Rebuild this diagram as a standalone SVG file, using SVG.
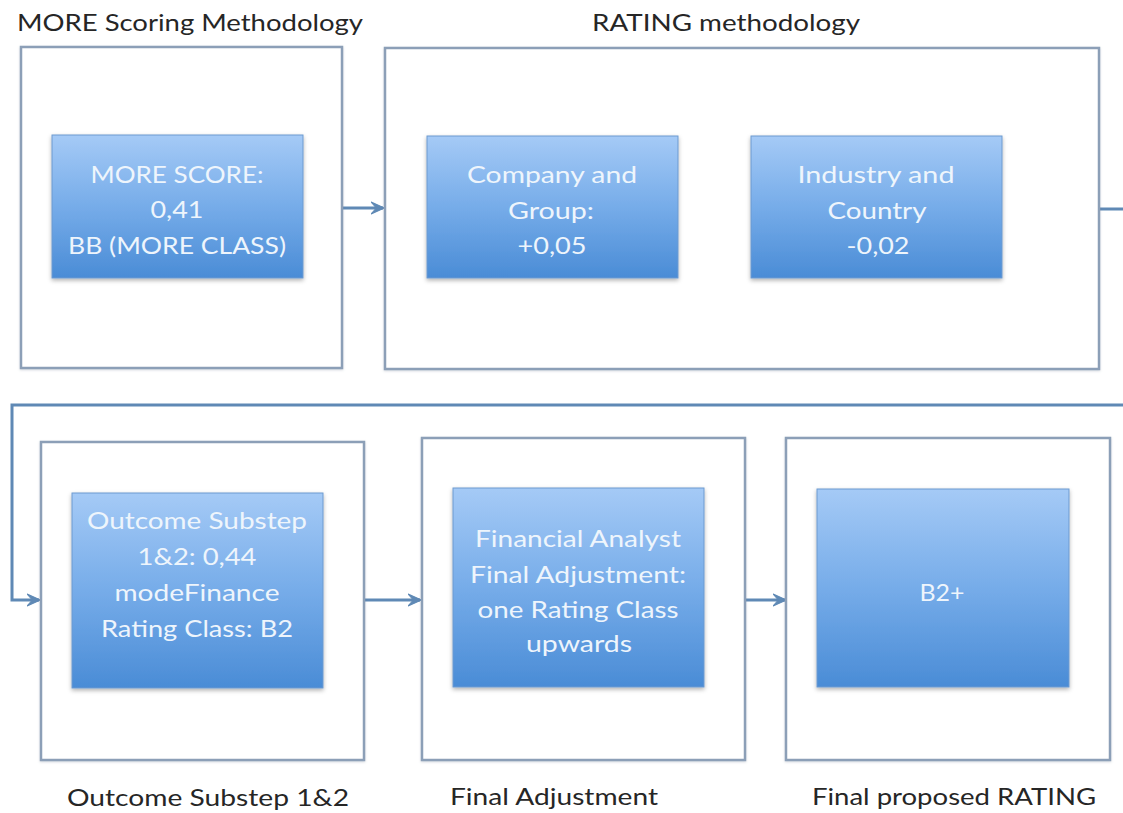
<svg xmlns="http://www.w3.org/2000/svg" width="1123" height="813" viewBox="0 0 1123 813">
  <defs>
    <linearGradient id="blueFill" x1="0" y1="0" x2="0" y2="1">
      <stop offset="0" stop-color="#a5caf6"/>
      <stop offset="0.5" stop-color="#76ace9"/>
      <stop offset="1" stop-color="#4a8cd6"/>
    </linearGradient>
    <filter id="shadow" x="-10%" y="-10%" width="120%" height="125%">
      <feDropShadow dx="0" dy="2" stdDeviation="2" flood-color="#000" flood-opacity="0.3"/>
    </filter>
    <filter id="frameShadow" x="-5%" y="-5%" width="110%" height="110%">
      <feDropShadow dx="0" dy="1" stdDeviation="1.2" flood-color="#5a6b80" flood-opacity="0.25"/>
    </filter>
    <marker id="arrow" viewBox="0 0 10 10" refX="9" refY="5" markerWidth="4.4" markerHeight="4.4" orient="auto" markerUnits="strokeWidth">
      <path d="M0,0.5 L10,5 L0,9.5 L4,5 z" fill="#5f89b5" stroke="#5f89b5" stroke-width="0.8" stroke-linejoin="round"/>
    </marker>
    <style>
      .frame { fill: #ffffff; stroke: #8c9fb7; stroke-width: 2.5; }
      .card { fill: url(#blueFill); stroke: #6d9ad0; stroke-width: 1; filter: url(#shadow); }
      .conn { fill: none; stroke: #5f89b5; stroke-width: 3; }
      .title { font-family: Lato, "Open Sans", "Liberation Sans", sans-serif; font-size: 24px; fill: #262626; text-anchor: middle; }
      .inner { font-family: Lato, "Open Sans", "Liberation Sans", sans-serif; font-size: 24px; fill: #eef5fc; text-anchor: middle; }
    </style>
  </defs>

  <rect width="1123" height="813" fill="#ffffff"/>

  <!-- connectors -->
  <g id="connectors">
    <path class="conn" d="M342,208 H383" marker-end="url(#arrow)"/>
    <path class="conn" d="M1099,209 H1132 V405 H12 V600 H39" marker-end="url(#arrow)"/>
    <path class="conn" d="M364,600 H420" marker-end="url(#arrow)"/>
    <path class="conn" d="M745,600 H785" marker-end="url(#arrow)"/>
  </g>

  <!-- step 1: MORE scoring -->
  <g id="more-scoring">
    <text class="title" x="190" y="31" textLength="346" lengthAdjust="spacingAndGlyphs">MORE Scoring Methodology</text>
    <rect class="frame" x="21" y="47" width="321" height="321" filter="url(#frameShadow)"/>
    <g id="more-score">
      <rect class="card" x="52" y="135" width="251" height="143"/>
      <text class="inner" x="177" y="183" textLength="173" lengthAdjust="spacingAndGlyphs">MORE SCORE:</text>
      <text class="inner" x="177" y="218" textLength="53" lengthAdjust="spacingAndGlyphs">0,41</text>
      <text class="inner" x="177" y="254" textLength="218" lengthAdjust="spacingAndGlyphs">BB (MORE CLASS)</text>
    </g>
  </g>

  <!-- step 2: rating methodology -->
  <g id="rating-methodology">
    <text class="title" x="726" y="31" textLength="268" lengthAdjust="spacingAndGlyphs">RATING methodology</text>
    <rect class="frame" x="385" y="48" width="714" height="321" filter="url(#frameShadow)"/>
    <g id="company-group">
      <rect class="card" x="427" y="136" width="251" height="142"/>
      <text class="inner" x="552" y="183" textLength="170" lengthAdjust="spacingAndGlyphs">Company and</text>
      <text class="inner" x="551" y="219" textLength="86" lengthAdjust="spacingAndGlyphs">Group:</text>
      <text class="inner" x="552" y="254" textLength="69" lengthAdjust="spacingAndGlyphs">+0,05</text>
    </g>
    <g id="industry-country">
      <rect class="card" x="751" y="136" width="251" height="142"/>
      <text class="inner" x="876" y="183" textLength="157" lengthAdjust="spacingAndGlyphs">Industry and</text>
      <text class="inner" x="877" y="219" textLength="99" lengthAdjust="spacingAndGlyphs">Country</text>
      <text class="inner" x="878" y="254" textLength="63" lengthAdjust="spacingAndGlyphs">-0,02</text>
    </g>
  </g>

  <!-- step 3: outcome substep 1&2 -->
  <g id="outcome-substep">
    <rect class="frame" x="41" y="442" width="323" height="318" filter="url(#frameShadow)"/>
    <rect class="card" x="72" y="493" width="251" height="195"/>
    <text class="inner" x="197" y="529" textLength="220" lengthAdjust="spacingAndGlyphs">Outcome Substep</text>
    <text class="inner" x="197" y="565" textLength="119" lengthAdjust="spacingAndGlyphs">1&amp;2: 0,44</text>
    <text class="inner" x="197" y="601" textLength="165" lengthAdjust="spacingAndGlyphs">modeFinance</text>
    <text class="inner" x="197" y="637" textLength="192" lengthAdjust="spacingAndGlyphs">Rating Class: B2</text>
    <text class="title" x="208" y="806" textLength="282" lengthAdjust="spacingAndGlyphs">Outcome Substep 1&amp;2</text>
  </g>

  <!-- step 4: final adjustment -->
  <g id="final-adjustment">
    <rect class="frame" x="422" y="438" width="323" height="322" filter="url(#frameShadow)"/>
    <rect class="card" x="453" y="488" width="251" height="199"/>
    <text class="inner" x="578" y="547" textLength="206" lengthAdjust="spacingAndGlyphs">Financial Analyst</text>
    <text class="inner" x="578" y="583" textLength="216" lengthAdjust="spacingAndGlyphs">Final Adjustment:</text>
    <text class="inner" x="578" y="618" textLength="201" lengthAdjust="spacingAndGlyphs">one Rating Class</text>
    <text class="inner" x="579" y="652" textLength="106" lengthAdjust="spacingAndGlyphs">upwards</text>
    <text class="title" x="554" y="805" textLength="208" lengthAdjust="spacingAndGlyphs">Final Adjustment</text>
  </g>

  <!-- step 5: final proposed rating -->
  <g id="final-rating">
    <rect class="frame" x="786" y="438" width="324" height="322" filter="url(#frameShadow)"/>
    <rect class="card" x="817" y="489" width="252" height="198"/>
    <text class="inner" x="942" y="601" font-size="21" textLength="45" lengthAdjust="spacingAndGlyphs">B2+</text>
    <text class="title" x="954" y="805" textLength="284" lengthAdjust="spacingAndGlyphs">Final proposed RATING</text>
  </g>
</svg>
